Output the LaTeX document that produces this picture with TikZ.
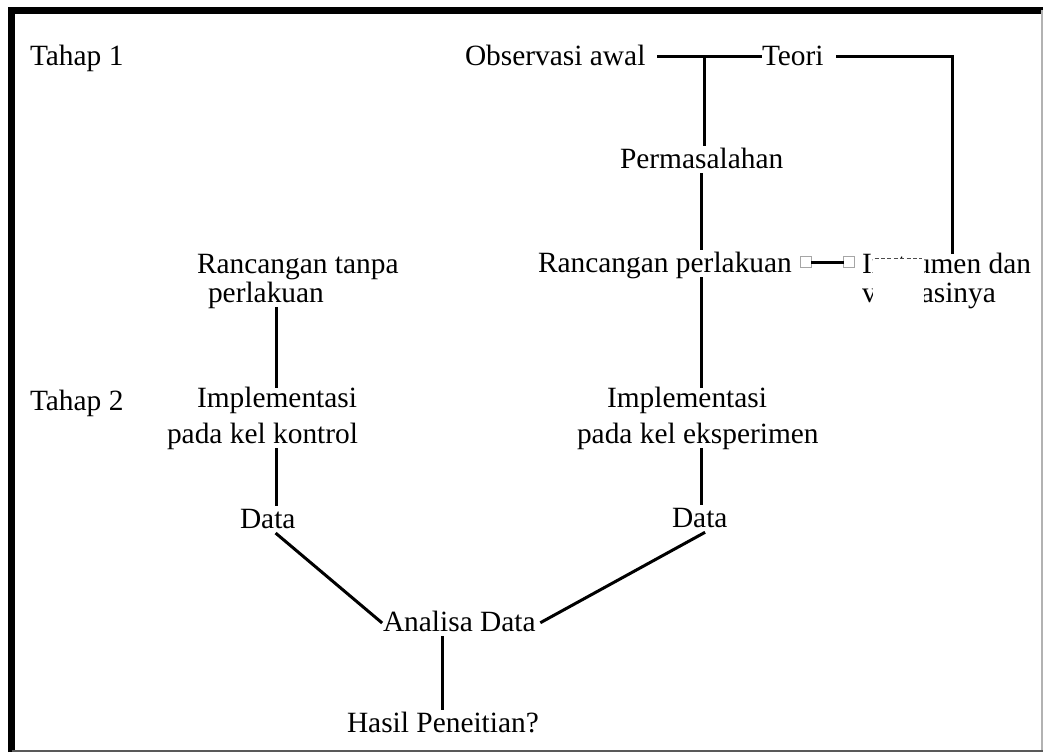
\documentclass[tikz,border=0pt]{standalone}
\usepackage{fontspec}
\setmainfont{Liberation Serif}
\usepackage{tikz}
\usetikzlibrary{positioning}
\tikzstyle{word} = [inner sep=0pt, outer sep=0pt, anchor=base west, text=black, font=\fontsize{14.7}{17.6}\selectfont, text height=12pt, text depth=3pt]
\tikzstyle{wordblock} = [inner sep=0pt, outer sep=0pt, anchor=base west, text=black, align=left, font=\fontsize{14.7}{14.5}\selectfont]
\tikzstyle{wordwide} = [wordblock, font=\fontsize{14.7}{18}\selectfont]
\tikzstyle{handle} = [rectangle, draw=black!35, fill=white, line width=0.6pt, inner sep=0pt, minimum size=5.5pt]
\tikzstyle{mask} = [rectangle, draw=none, fill=white, inner sep=0pt, minimum width=25.5pt, minimum height=30pt]
\tikzstyle{ln}  = [draw, line width=1.5pt, line cap=rect]
\tikzstyle{selbox} = [draw=black!70, line width=0.5pt, dash pattern=on 2pt off 1.2pt]

\begin{document}
\begin{tikzpicture}[x=0.5pt, y=-0.5pt]
\useasboundingbox (0,0) rectangle (1043,752);
%frame=========================
\draw[line width=3.5pt] (11.5,752) -- (11.5,10) -- (1043,10);
\draw[black!30, line width=1pt] (1042,10) -- (1042,750);
\draw[black!65, line width=1pt] (11.5,750.5) -- (1043,750.5);

%tahap 1=========================
\node[word] (tahap1) at (30,65) {Tahap 1};
\node[word] (obs) at (465,65) {Observasi awal};
\node[word] (teori) at (762,65) {Teori};
\node[word] (perm) at (620,168) {Permasalahan};
\node[word] (rperl) at (538,272) {Rancangan perlakuan};
\node[wordblock] (instr) at (862,302) {Instrumen dan\\validasinya};
\node[wordblock] (rtanpa) at (197,302) {Rancangan tanpa\\\hspace*{5.5pt}perlakuan};

%tahap 2=========================
\node[word] (tahap2) at (30,410) {Tahap 2};
\node[wordwide] (impk) at (167,443) {\hspace*{15pt}Implementasi\\pada kel kontrol};
\node[wordwide] (impe) at (577,443) {\hspace*{15pt}Implementasi\\pada kel eksperimen};
\node[word] (datak) at (240,528) {Data};
\node[word] (datae) at (672,527) {Data};
\node[word] (anal) at (383,631) {Analisa Data};
\node[word] (hasil) at (347,732) {Hasil Peneitian?};

\coordinate (lk) at ([xshift=-10.5pt]rtanpa.south);

% edges
\path[ln] ([xshift=6.5pt]obs.east) edge ([xshift=-1pt]teori.west);
\path[ln] ([xshift=1.5pt]perm.north) edge ([xshift=1.5pt]perm.north |- obs.east);
\draw[ln] ([xshift=7pt]teori.east) -| ([xshift=2.75pt]instr.north);
\path[ln] (perm.south) edge (perm.south |- rperl.north);
\path[ln] (perm.south |- rperl.south) edge (perm.south |- impe.north);
\path[ln] (perm.south |- impe.south) edge (perm.south |- datae.north);
\path[ln] ([xshift=2pt]datae.south) edge ([xshift=3pt]anal.east);
\path[ln] (lk) edge (lk |- impk.north);
\path[ln] (lk |- impk.south) edge (lk |- datak.north);
\path[ln] ([xshift=4.5pt]datak.south) edge ([xshift=-1pt]anal.west);
\path[ln] (hasil.north |- anal.south) edge (hasil.north);

% selected connector
\node[handle] (hA) at (806,262) {};
\node[handle] (hB) at (849,262) {};
\path[ln] (hA) edge (hB);

% selected text box hiding part of the label
\node[mask] (cover) at (898.5,289) {};
\draw[selbox] ([xshift=1pt]cover.north west) -- ([xshift=-1pt]cover.north east);
\end{tikzpicture}
\end{document}
